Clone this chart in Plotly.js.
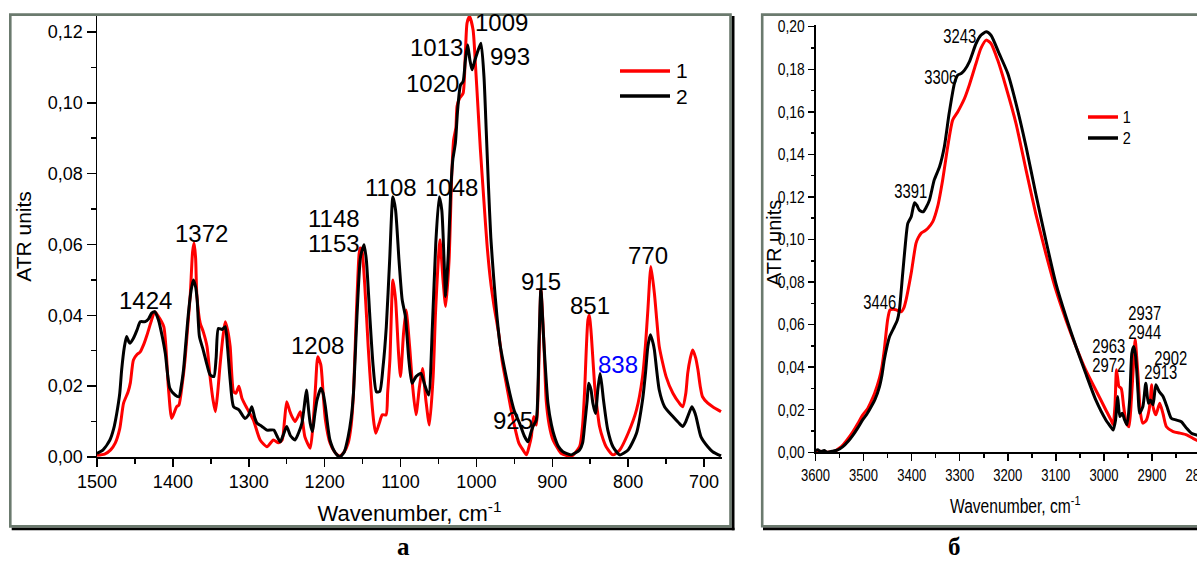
<!DOCTYPE html>
<html>
<head>
<meta charset="utf-8">
<script src="https://cdn.plot.ly/plotly-3.0.1.min.js"></script>
<style>
  html, body { margin: 0; padding: 0; overflow: hidden; background: #ffffff; }
  #chart { width: 1240px; height: 562px; }
</style>
</head>
<body>
<div id="chart"></div>
<script>
// ---------- Fingerprint region 1500-680 cm-1 ----------
const leftWn1 = [1500,1490,1482,1476,1470,1465,1459,1456,1452,1447,1443,1438,1434,1429,1424,1420,1412,1406,1401.5,1395,1392,1388,1384,1380,1377,1374,1372,1370,1368.5,1364,1360,1355,1351,1347,1344,1341,1338,1334,1331,1328,1324.5,1320,1317,1313,1309,1302.5,1294,1285,1276,1267.5,1261,1256,1253,1250,1246,1243,1239,1235,1232,1229,1226,1219,1215,1212,1209,1205,1202,1199,1193,1186,1180,1174,1169,1165,1162,1158,1154.5,1153,1151,1147,1142.6,1138,1135,1132.6,1128,1124,1119,1117,1114,1110,1106.5,1102.6,1100,1096,1092.6,1088,1084,1079.6,1075,1071,1066.6,1062,1057,1054,1051,1048,1044,1040.5,1036,1032.6,1030,1027,1025.5,1022,1017.5,1014.5,1012.3,1009,1004.4,1001.3,998,994.7,990,986,981.5,977,970,966,960,955,950,944,938.6,934,930.5,927.6,924.6,921,917.5,915,911,908,904,899,893,888,875,864,860,857.5,853,851,848.7,844,840.5,837.7,833,829,820,811,800,789,781,777,774,770,765.4,762,759,750,741,732.5,728,724,721.5,718,715,711,708,705,702,695,688.6,677.6];
const leftAbs1 = [0.0005,0.0008,0.002,0.0039,0.008,0.0152,0.0184,0.021,0.0274,0.029,0.0297,0.032,0.0345,0.038,0.041,0.040,0.0368,0.0199,0.0109,0.0142,0.0147,0.020,0.0274,0.038,0.046,0.058,0.0604,0.056,0.046,0.0378,0.0354,0.0312,0.0227,0.016,0.0128,0.018,0.0255,0.034,0.0382,0.036,0.0312,0.0184,0.018,0.020,0.0166,0.0138,0.0105,0.0048,0.0029,0.0048,0.004,0.0048,0.010,0.0156,0.013,0.0114,0.010,0.0115,0.0128,0.010,0.0057,0.0025,0.010,0.0199,0.0283,0.026,0.018,0.0105,0.004,0.0012,0.0003,0.0015,0.0039,0.009,0.018,0.0415,0.0575,0.059,0.0585,0.0481,0.0312,0.0161,0.0095,0.0067,0.0095,0.0119,0.0119,0.018,0.0274,0.050,0.0444,0.0293,0.0227,0.0349,0.0415,0.0312,0.0199,0.0119,0.0199,0.025,0.0161,0.009,0.0227,0.040,0.0528,0.0613,0.050,0.0425,0.0556,0.079,0.0895,0.093,0.099,0.1013,0.1027,0.114,0.1225,0.1244,0.1206,0.111,0.099,0.0867,0.072,0.060,0.050,0.043,0.034,0.027,0.020,0.0142,0.009,0.0039,0.002,0.0006,0.003,0.0057,0.0114,0.009,0.0274,0.0476,0.032,0.016,0.009,0.0048,0.0025,0.001,0.0002,0.0029,0.009,0.018,0.0387,0.0401,0.0349,0.0199,0.013,0.0086,0.005,0.0029,0.0006,0.002,0.0067,0.0133,0.0227,0.032,0.0415,0.0538,0.0462,0.038,0.0312,0.0227,0.018,0.0152,0.0142,0.018,0.0236,0.028,0.0302,0.028,0.0246,0.020,0.017,0.0152,0.0142,0.0128];

const leftWn2 = [1500,1492,1483,1478,1474,1470,1467.5,1464,1461,1458,1456.5,1452,1447,1443,1436.5,1432,1428,1424,1419,1414,1410,1404,1397,1392,1389,1386,1383,1379.5,1376,1373,1370,1368,1365,1360,1355,1351,1346,1343,1340,1335,1331,1328,1324.5,1320,1313,1305,1300,1296,1292,1289,1283,1276,1267,1263,1258.5,1254,1250,1245,1239,1234,1230,1227,1224,1221,1219,1216,1213,1210,1205,1202,1199,1193,1186,1180,1174,1169,1165,1162,1157,1152.6,1148,1145,1140.4,1136,1131.7,1127.4,1123,1118.7,1114.3,1110,1106.5,1102,1097.8,1093.5,1089,1084.8,1079.6,1073,1068.7,1063,1058,1053.5,1049,1045.6,1042.6,1040.5,1037,1034,1031,1027.7,1024.7,1021,1017.5,1014.5,1011.5,1008.5,1005.7,1002,999,994,990,987,984,981,977,973,969,962,956,950,943,937,932,928,925.4,921,917.5,915,911,905.7,901,897,892,886,875,864,860,857.5,854,852,849,846.5,843,840,837,834.5,832.5,826.8,820,811,800,789,781,777,774,770.6,767,765.4,759,752,741,734,728,724,721.5,716,713,710.5,704,695,688.6,677.6];
const leftAbs2 = [0.001,0.002,0.0048,0.008,0.0123,0.018,0.0246,0.031,0.034,0.0325,0.0321,0.0335,0.036,0.0382,0.0382,0.039,0.0406,0.041,0.0387,0.034,0.0293,0.0194,0.0175,0.017,0.020,0.0246,0.032,0.0406,0.047,0.050,0.048,0.0444,0.034,0.0302,0.026,0.0232,0.0227,0.028,0.0363,0.036,0.0368,0.031,0.0218,0.0142,0.0133,0.0109,0.012,0.0142,0.011,0.0095,0.0087,0.0076,0.0076,0.006,0.0043,0.0065,0.0086,0.006,0.0048,0.007,0.0095,0.014,0.0189,0.013,0.0095,0.0072,0.012,0.0161,0.0194,0.018,0.0142,0.0048,0.0012,0.0,0.0015,0.0057,0.011,0.018,0.0415,0.0566,0.0599,0.0556,0.0396,0.0255,0.0184,0.0185,0.0255,0.0368,0.0556,0.0735,0.0697,0.0556,0.0444,0.0396,0.0274,0.0208,0.0227,0.0236,0.0208,0.0175,0.0368,0.0604,0.0735,0.0697,0.0556,0.0453,0.0575,0.0744,0.084,0.0886,0.098,0.105,0.106,0.112,0.1164,0.112,0.1093,0.112,0.114,0.1168,0.1074,0.092,0.076,0.062,0.050,0.040,0.032,0.024,0.018,0.013,0.0095,0.006,0.0043,0.007,0.0086,0.0105,0.032,0.0472,0.032,0.0152,0.009,0.0057,0.003,0.0015,0.0006,0.002,0.004,0.0086,0.016,0.0208,0.019,0.0152,0.0123,0.0189,0.0236,0.020,0.0161,0.0076,0.0029,0.0006,0.002,0.0067,0.0161,0.024,0.0312,0.0345,0.032,0.0302,0.0189,0.0142,0.0114,0.0098,0.0086,0.010,0.0114,0.0142,0.013,0.0114,0.0057,0.0029,0.0015,0.0003];

// ---------- O-H / C-H stretching region 3600-2780 cm-1 ----------
const rightWn1 = [3600,3590,3575,3560,3550,3543,3532,3522,3512,3502,3491,3484,3477,3467,3462,3457,3450,3445,3438,3432,3422,3416,3411.6,3401,3391,3386,3380.5,3373,3366.6,3356,3346,3335.5,3325,3314.7,3304,3297,3290,3280,3266,3256,3245,3235,3221,3204,3183,3162,3142,3121,3100,3079,3058,3038,3017,2996,2985,2981,2977,2974,2971,2969,2964,2959,2953.5,2948,2943,2938,2935,2932,2929,2924,2919,2912,2906,2903,2901,2898,2892,2884,2877,2870,2856,2842,2828,2815,2800,2780];
const rightAbs1 = [0.0003,0.0005,0.0,0.0005,0.002,0.0034,0.0065,0.0097,0.0135,0.0175,0.0207,0.024,0.0277,0.0348,0.040,0.048,0.0622,0.0669,0.0672,0.0669,0.066,0.068,0.0716,0.0841,0.0982,0.101,0.1029,0.104,0.1052,0.1084,0.1154,0.128,0.1436,0.1561,0.160,0.163,0.1663,0.1726,0.1828,0.1898,0.1937,0.1921,0.1843,0.1718,0.1546,0.1326,0.1123,0.0935,0.0763,0.0622,0.0496,0.0387,0.0293,0.0199,0.015,0.013,0.022,0.0388,0.034,0.031,0.030,0.0215,0.0137,0.012,0.0246,0.0435,0.053,0.045,0.0356,0.0184,0.0137,0.015,0.020,0.026,0.0317,0.0215,0.0176,0.023,0.018,0.012,0.0097,0.009,0.0082,0.0066,0.005,0.004];

const rightWn2 = [3600,3595,3590,3582,3575,3565,3555,3543,3532,3522,3512,3502,3493,3484,3476,3467,3462,3457,3451,3446,3436,3430,3425.5,3418.6,3413,3408,3401,3394,3389,3384,3376,3370,3363,3353,3342,3332,3322,3311,3304,3297,3290,3280,3266,3256,3245,3235,3218,3200,3183,3162,3142,3121,3100,3079,3058,3038,3017,2996,2986,2981,2976,2974,2971.5,2967,2962,2957,2952,2946.5,2942,2938,2934,2929,2926,2919,2913,2907.6,2903.5,2898,2892,2885,2877,2869,2860,2850,2839,2828,2818,2808,2790,2775];
const rightAbs2 = [0.0008,0.0012,0.0003,0.0008,0.0,0.0005,0.001,0.0027,0.0052,0.0081,0.0115,0.0152,0.018,0.0215,0.025,0.0308,0.036,0.0434,0.050,0.0543,0.059,0.062,0.0669,0.0841,0.098,0.1076,0.1107,0.1173,0.116,0.1138,0.113,0.115,0.1185,0.128,0.1342,0.1436,0.1593,0.1734,0.1773,0.178,0.1796,0.1835,0.1921,0.196,0.1976,0.196,0.1874,0.178,0.164,0.1436,0.1217,0.0998,0.0794,0.0637,0.0496,0.0371,0.0246,0.0152,0.012,0.0105,0.015,0.020,0.0262,0.0168,0.0184,0.0152,0.0129,0.0246,0.0466,0.0497,0.045,0.0278,0.0184,0.0215,0.0325,0.023,0.0246,0.0223,0.0317,0.0285,0.0262,0.0215,0.016,0.0152,0.0144,0.0113,0.009,0.0082,0.007,0.006];

const seriesNames = ['1', '2'];
const leftPeaks = ['1424','1372','1148','1153','1108','1048','1009','1013','993','1020','915','851','838','925','770','1208'];
const rightPeaks = ['3243','3306','3391','3446','2963','2972','2937','2944','2902','2913'];

// ---------- geometry helpers (page pixels -> paper fractions) ----------
const W = 1240, H = 562;
const px = p => p / W;
const py = p => 1 - p / H;

// label anchor points in data units [wavenumber, absorbance]
const leftPeakPos = [[1436.7,0.0443],[1362.9,0.063],[1187.7,0.0674],[1187.7,0.0603],[1112.5,0.0762],[1032.8,0.0762],[966.3,0.1228],[1052.3,0.1155],[956.1,0.113],[1058.5,0.1055],[914.9,0.0495],[850.3,0.0429],[813.0,0.026],[952.4,0.0104],[773.9,0.0568],[1209.4,0.0314]];
const rightPeakPos = [[3299.7,0.1955],[3340.3,0.1765],[3402.7,0.1228],[3466.2,0.0704],[2990.9,0.0499],[2990.9,0.0412],[2915.4,0.0653],[2915.4,0.0563],[2862.2,0.0442],[2882.4,0.0379]];

const SANS = 'Liberation Sans, Arial, sans-serif';
const SERIF = 'Liberation Serif, Times New Roman, serif';
const RED = '#ff0000', BLACK = '#000000', FRAME = '#6b7a6e';

const traces = [
  { x: leftWn1, y: leftAbs1, name: seriesNames[0], xaxis: 'x', yaxis: 'y',
    mode: 'lines', line: { color: RED, width: 3, shape: 'spline', smoothing: 0.6 } },
  { x: leftWn2, y: leftAbs2, name: seriesNames[1], xaxis: 'x', yaxis: 'y',
    mode: 'lines', line: { color: BLACK, width: 3, shape: 'spline', smoothing: 0.6 } },
  { x: rightWn1, y: rightAbs1, name: seriesNames[0], xaxis: 'x2', yaxis: 'y2',
    mode: 'lines', line: { color: RED, width: 3, shape: 'spline', smoothing: 0.6 } },
  { x: rightWn2, y: rightAbs2, name: seriesNames[1], xaxis: 'x2', yaxis: 'y2',
    mode: 'lines', line: { color: BLACK, width: 3, shape: 'spline', smoothing: 0.6 } }
];

function axisBase(extra) {
  return Object.assign({
    showline: true, linecolor: '#000', linewidth: 1.5,
    ticks: 'outside', tickcolor: '#000', tickwidth: 1.5,
    showgrid: false, zeroline: false, fixedrange: true,
    automargin: false
  }, extra);
}

// the right panel uses a condensed lettering; these annotation indices get squeezed after drawing
const condensedNotes = [];
const annotations = [];
function note(obj, condensed) {
  if (condensed) condensedNotes.push({ index: annotations.length, factor: condensed });
  annotations.push(obj);
}

leftPeaks.forEach((t, i) => note({
  xref: 'x', yref: 'y', x: leftPeakPos[i][0], y: leftPeakPos[i][1], text: t,
  showarrow: false, xanchor: 'center', yanchor: 'middle', borderpad: 0,
  font: { family: SANS, size: 24, color: t === '838' ? '#0000ff' : '#000' }
}));
rightPeaks.forEach((t, i) => note({
  xref: 'x2', yref: 'y2', x: rightPeakPos[i][0], y: rightPeakPos[i][1], text: t,
  showarrow: false, xanchor: 'center', yanchor: 'middle', borderpad: 0,
  font: { family: SANS, size: 19.5, color: '#000' }
}, 0.76));

// legend entries
const legendRows = [
  { x0: 620, x1: 670, ys: [71, 96], tx: 675, size: 21, squeeze: 0 },
  { x0: 1088, x1: 1118, ys: [117, 138], tx: 1120.5, size: 17, squeeze: 0.85 }
];
const shapes = [];
legendRows.forEach(r => {
  [RED, BLACK].forEach((c, k) => {
    shapes.push({ type: 'line', xref: 'paper', yref: 'paper',
      x0: px(r.x0), x1: px(r.x1), y0: py(r.ys[k]), y1: py(r.ys[k]),
      line: { color: c, width: 3.5 } });
    note({ xref: 'paper', yref: 'paper', x: px(r.tx), y: py(r.ys[k]),
      text: seriesNames[k], showarrow: false, xanchor: 'left', yanchor: 'middle', borderpad: 0,
      font: { family: SANS, size: r.size, color: '#000' } }, r.squeeze);
  });
});

// panel captions
note({ xref: 'paper', yref: 'paper', x: px(403), y: py(561), text: '<b>а</b>',
  showarrow: false, xanchor: 'center', yanchor: 'bottom', borderpad: 0,
  font: { family: SERIF, size: 25, color: '#000' } });
note({ xref: 'paper', yref: 'paper', x: px(954), y: py(561), text: '<b>б</b>',
  showarrow: false, xanchor: 'center', yanchor: 'bottom', borderpad: 0,
  font: { family: SERIF, size: 25, color: '#000' } });

// right y title sits over the panel frame
note({ xref: 'paper', yref: 'paper', x: px(774), y: py(243), text: 'ATR units',
  textangle: -90, showarrow: false, xanchor: 'center', yanchor: 'middle', borderpad: 0,
  font: { family: SANS, size: 20, color: '#000' } });

// panel frames with dark drop shadow
function frame(x0, x1, y0, y1) {
  shapes.push({ type: 'rect', xref: 'paper', yref: 'paper', layer: 'above',
    x0: px(x0), x1: px(x1), y0: py(y0), y1: py(y1),
    line: { color: FRAME, width: 2.6 }, fillcolor: 'rgba(0,0,0,0)' });
}
function block(x0, x1, y0, y1) {
  shapes.push({ type: 'rect', xref: 'paper', yref: 'paper', layer: 'above',
    x0: px(x0), x1: px(x1), y0: py(y0), y1: py(y1),
    line: { width: 0 }, fillcolor: '#000' });
}
frame(10.3, 730.5, 14.6, 526.4);
block(731.8, 734.5, 16, 530.2);
block(11.7, 734.5, 527.7, 530.2);
frame(762.2, 1262, 14.6, 526.2);
block(763, 1262, 527.5, 530.2);

const layout = {
  width: W, height: H,
  margin: { l: 0, r: 0, t: 0, b: 0 },
  paper_bgcolor: '#ffffff', plot_bgcolor: '#ffffff',
  separators: ', ',
  showlegend: false,
  font: { family: SANS, color: '#000' },
  xaxis: axisBase({
    domain: [px(97), px(722)], range: [1500, 676.3], anchor: 'y',
    dtick: 100, tick0: 0, ticklen: 8,
    minor: { dtick: 50, ticklen: 5, ticks: 'outside', tickcolor: '#000', tickwidth: 1.5 },
    tickfont: { family: SANS, size: 18 },
    title: { text: 'Wavenumber, cm<sup>-1</sup>', font: { family: SANS, size: 22 }, standoff: 14 }
  }),
  yaxis: axisBase({
    domain: [py(457), py(16)], range: [0, 0.1245], anchor: 'x',
    dtick: 0.02, tick0: 0, ticklen: 9, tickformat: '.2f',
    minor: { dtick: 0.01, ticklen: 5, ticks: 'outside', tickcolor: '#000', tickwidth: 1.5 },
    tickfont: { family: SANS, size: 18 },
    title: { text: 'ATR units', font: { family: SANS, size: 21 }, standoff: 10 }
  }),
  xaxis2: axisBase({
    domain: [px(815.5), px(1215)], range: [3600, 2769], anchor: 'y2',
    dtick: 100, tick0: 0, ticklen: 7,
    minor: { dtick: 50, ticklen: 4, ticks: 'outside', tickcolor: '#000', tickwidth: 1.5 },
    tickfont: { family: SANS, size: 16.5 },
    title: { text: 'Wavenumber, cm<sup>-1</sup>', font: { family: SANS, size: 19.5 }, standoff: 17 }
  }),
  yaxis2: axisBase({
    domain: [py(452.3), py(25)], range: [0, 0.2008], anchor: 'x2',
    dtick: 0.02, tick0: 0, ticklen: 6, tickformat: '.2f',
    minor: { dtick: 0.01, ticklen: 3.5, ticks: 'outside', tickcolor: '#000', tickwidth: 1.5 },
    tickfont: { family: SANS, size: 16.5 }
  }),
  annotations: annotations,
  shapes: shapes
};

// narrow the lettering of an svg text element around its own anchor
function squeeze(el, factor) {
  if (!el || !factor) return;
  const w = el.getComputedTextLength();
  if (w > 0) {
    el.setAttribute('textLength', (w * factor).toFixed(2));
    el.setAttribute('lengthAdjust', 'spacingAndGlyphs');
  }
}

Plotly.newPlot('chart', traces, layout, { displayModeBar: false, staticPlot: true }).then(gd => {
  gd.querySelectorAll('.x2tick text').forEach(el => squeeze(el, 0.79));
  gd.querySelectorAll('.y2tick text').forEach(el => squeeze(el, 0.84));
  gd.querySelectorAll('.g-x2title text').forEach(el => squeeze(el, 0.8));
  condensedNotes.forEach(c => {
    const g = gd.querySelector('.annotation[data-index="' + c.index + '"]');
    if (g) squeeze(g.querySelector('text.annotation-text'), c.factor);
  });
});
</script>
</body>
</html>
